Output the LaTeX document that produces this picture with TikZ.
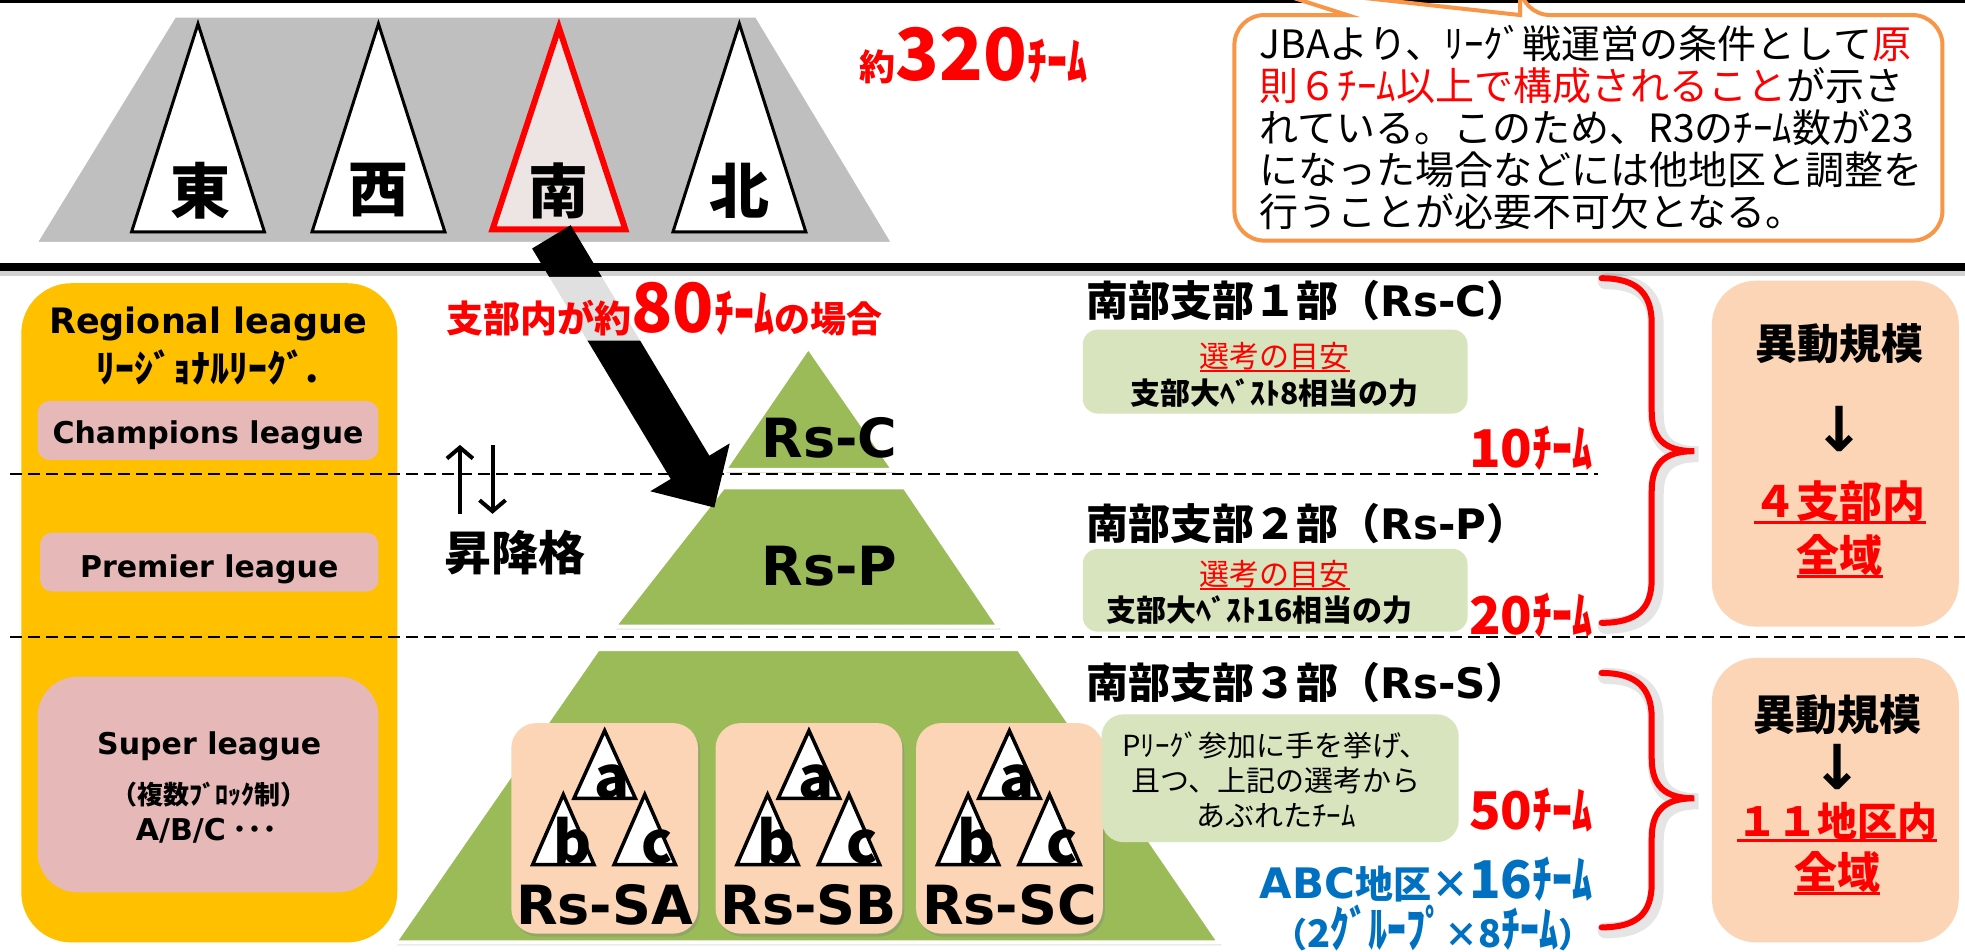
\documentclass[tikz,border=0pt]{standalone}
\usepackage{fontspec}
\usepackage{graphicx}
\setmainfont{Noto Sans CJK JP}
\newfontfamily\dv{DejaVu Sans}
\usetikzlibrary{arrows.meta,shadows}
\definecolor{grayT}{HTML}{BFBFBF}
\definecolor{minami}{HTML}{EDE4E4}
\definecolor{yel}{HTML}{FFC000}
\definecolor{pinkB}{HTML}{E6B9B8}
\definecolor{grn}{HTML}{9BBB59}
\definecolor{peach}{HTML}{FBD5B5}
\definecolor{lgrn}{HTML}{D7E4BD}
\definecolor{orng}{HTML}{F79646}
\definecolor{blu}{HTML}{0070C0}
\newcommand\fsz[1]{\fontsize{#1}{#1}\selectfont}
\newcommand\tall[1]{\smash{\scalebox{1}[1.3]{#1}}\vphantom{#1}}
\newcommand\myul[3]{\setbox0\hbox{#3}\leavevmode\rlap{\raisebox{-#1}{\rule{\wd0}{#2}}}\box0}
\begin{document}
\begin{tikzpicture}[x=1.2532pt,y=-1.2532pt,
  lbl/.style={inner sep=0pt},
  tri/.style={fill=white,draw=black,line width=3pt,line join=miter,drop shadow={shadow xshift=2pt,shadow yshift=-2pt,opacity=.3}},
  pyr/.style={fill=grn,draw=white,line width=4pt,line join=round,drop shadow={shadow xshift=2pt,shadow yshift=-3pt,opacity=.25}},
  stri/.style={fill=white,draw=black,line width=3.5pt,line join=miter,drop shadow={shadow xshift=1.5pt,shadow yshift=-1.5pt,opacity=.35}},
  dashln/.style={line width=2pt,dash pattern=on 12pt off 6pt},
  brace/.style={draw=red,line width=6pt,line cap=round},
  braceshadow/.style={draw=black,opacity=.10,line width=16pt,line cap=round,xshift=4pt,yshift=-3pt},
  updn/.style={line width=4pt},
]
\useasboundingbox (0,0) rectangle (1568,759);
\fill[white] (0,0) rectangle (1568,759);

% ---------- top section ----------
\draw[line width=3pt] (0,1) -- (1568,1);
\filldraw[fill=grayT,draw=white,line width=5pt,drop shadow={shadow xshift=2pt,shadow yshift=-2pt,opacity=.25}]
  (139,12) -- (604,12) -- (714,195) -- (27,195) -- cycle;
\foreach \cx in {158,302,590} {
  \draw[tri] (\cx,19) -- ({\cx+53},185) -- ({\cx-53},185) -- cycle;
}
\draw[fill=minami,draw=red,line width=6pt,line join=miter,drop shadow={shadow xshift=2pt,shadow yshift=-2pt,opacity=.3}]
  (446,22) -- (499,183) -- (393,183) -- cycle;
\node[lbl,font=\bfseries\fsz{60}] (east) at (160,152) {東};
\node[lbl,font=\bfseries\fsz{60}] (west) at (302,152) {西};
\node[lbl,font=\bfseries\fsz{60}] (south) at (446,152) {南};
\node[lbl,font=\bfseries\fsz{60}] (north) at (590,152) {北};
\node[lbl,anchor=base west,text=red,font=\bfseries] (t320) at (686,64)
  {{\fsz{36}約}{\fsz{72}320}{\fsz{40}\tall{ﾁｰﾑ}}};

% callout
\draw[fill=white,draw=orng,line width=4pt]
  (1213,12) -- (1003,-11) -- (1075,12) [rounded corners=30pt] -- (985,12) -- (985,192)
  -- (1550,192) -- (1550,12) -- (1213,12) [sharp corners] -- cycle;
\node[lbl,anchor=north west,align=left,font=\fontsize{39}{42}\selectfont] (note) at (1005,20)
  {JBAより、ﾘｰｸﾞ戦運営の条件として\textcolor{red}{原}\\
   \textcolor{red}{則６ﾁｰﾑ以上で構成されること}が示さ\\
   れている。このため、R3のﾁｰﾑ数が23\\
   になった場合などには他地区と調整を\\
   行うことが必要不可欠となる。};

% separator
\draw[line width=5pt,black!18] (0,218) -- (1568,218);
\draw[line width=8pt] (0,213) -- (1568,213);

% ---------- left column ----------
\fill[yel,rounded corners=50pt] (17,226) rectangle (317,752);
\fill[pinkB,rounded corners=12pt] (30,320) rectangle (302,367);
\fill[pinkB,rounded corners=12pt] (32,425) rectangle (302,472);
\fill[pinkB,rounded corners=40pt] (30,540) rectangle (302,712);
\node[lbl,anchor=base,font=\dv\bfseries\fsz{35}] (rl) at (166,266) {Regional league};
\node[lbl,font=\bfseries\fsz{38}] (rlj) at (166,293) {ﾘｰｼﾞｮﾅﾙﾘｰｸﾞ.};
\node[lbl,anchor=base,font=\dv\bfseries\fsz{30}] (champ) at (166,354) {Champions league};
\node[lbl,anchor=base,font=\dv\bfseries\fsz{30}] (prem) at (167,461) {Premier league};
\node[lbl,anchor=base,font=\dv\bfseries\fsz{30}] (super) at (167,602) {Super league};
\node[lbl,font=\bfseries\fsz{26}] (block) at (167,634) {（複数ﾌﾞﾛｯｸ制）};
\node[lbl,anchor=base,font=\bfseries\fsz{30}] (abcl) at (165,671) {{\dv A/B/C} ･･･};

% ---------- pyramid ----------
\draw[pyr] (645,277) -- (713,375) -- (578,375) -- cycle;
\draw[pyr] (577,389) -- (722,389) -- (797,500) -- (490,500) -- cycle;
\draw[pyr] (477,518) -- (813,518) -- (973,752) -- (315,752) -- cycle;

\draw[dashln] (8,378) -- (1275,378);
\draw[dashln] (8,508) -- (1568,508);

\node[lbl,anchor=base,font=\dv\bfseries\fsz{54}] (rsc) at (662,365) {Rs-C};
\node[lbl,anchor=base,font=\dv\bfseries\fsz{54}] (rsp) at (662,467) {Rs-P};

\foreach \bx/\nm in {482.5/A,645.5/B,805.5/C} {
  \fill[peach,rounded corners=25pt,drop shadow={shadow xshift=2pt,shadow yshift=-3pt,opacity=.35}]
    ({\bx-74.5},577) rectangle ({\bx+74.5},745);
  \draw[stri] (\bx,583) -- ({\bx+24.5},637) -- ({\bx-24.5},637) -- cycle;
  \draw[stri] ({\bx-33},634) -- ({\bx-8.5},690) -- ({\bx-57.5},690) -- cycle;
  \draw[stri] ({\bx+32},634) -- ({\bx+56.5},690) -- ({\bx+7.5},690) -- cycle;
  \node[lbl,anchor=base,font=\bfseries\fsz{58}] (a\nm) at ({\bx+6},637) {a};
  \node[lbl,anchor=base,font=\bfseries\fsz{58}] (b\nm) at ({\bx-26},689) {b};
  \node[lbl,anchor=base,font=\bfseries\fsz{58}] (c\nm) at ({\bx+42},689) {c};
  \node[lbl,anchor=base,font=\dv\bfseries\fsz{54}] (rs\nm) at (\bx,738) {Rs-S\nm};
}

% big arrow
\fill[black] (424.6,198.3) -- (455.4,179.7) -- (566.0,363.6) -- (582.3,353.8) -- (570,405)
  -- (518.9,392.0) -- (535.2,382.2) -- cycle;

\node[anchor=base west,text=red,font=\bfseries,fill=white,fill opacity=.88,text opacity=1,
      inner xsep=4pt,inner ysep=5pt,rounded corners=6pt] (case80) at (353,265)
  {{\fsz{37}支部内が約}{\fsz{68}80}{\fsz{40}\tall{ﾁｰﾑ}}{\fsz{36}の場合}};

% promotion arrows
\draw[updn,-{Straight Barb[length=11pt,width=26pt]}] (367,410) -- (367,355);
\draw[updn,-{Straight Barb[length=11pt,width=26pt]}] (393,355) -- (393,410);
\node[lbl,font=\bfseries\fsz{47}] (shoko) at (411,441) {昇降格};

% ---------- right text column ----------
\node[lbl,anchor=west,font=\bfseries\fsz{42}] (h1) at (867,240) {南部支部１部（{\dv Rs-C}）};
\fill[lgrn,rounded corners=15pt] (864,263) rectangle (1171,330);
\node[lbl,text=red,font=\fsz{30}] (m1) at (1017,285) {\myul{4pt}{1.5pt}{選考の目安}};
\node[lbl,font=\bfseries\fsz{30}] (b8) at (1017,314) {支部大ﾍﾞｽﾄ8相当の力};
\node[lbl,anchor=base east,text=red,font=\bfseries] (n10) at (1271,373) {{\fsz{52}10}{\fsz{40}\tall{ﾁｰﾑ}}};

\node[lbl,anchor=west,font=\bfseries\fsz{42}] (h2) at (867,418) {南部支部２部（{\dv Rs-P}）};
\fill[lgrn,rounded corners=15pt] (864,438) rectangle (1171,504);
\node[lbl,text=red,font=\fsz{30}] (m2) at (1017,459) {\myul{4pt}{1.5pt}{選考の目安}};
\node[lbl,font=\bfseries\fsz{30}] (b16) at (1005,487) {支部大ﾍﾞｽﾄ16相当の力};
\node[lbl,anchor=base east,text=red,font=\bfseries] (n20) at (1271,506) {{\fsz{52}20}{\fsz{40}\tall{ﾁｰﾑ}}};

\node[lbl,anchor=west,font=\bfseries\fsz{42}] (h3) at (867,545) {南部支部３部（{\dv Rs-S}）};
\fill[lgrn,rounded corners=22pt] (879,570) rectangle (1164,672);
\node[lbl,align=center,font=\fontsize{29}{35}\selectfont] (m3) at (1018,622)
  {Pﾘｰｸﾞ参加に手を挙げ、\\且つ、上記の選考から\\あぶれたﾁｰﾑ};
\node[lbl,anchor=base east,text=red,font=\bfseries] (n50) at (1271,662) {{\fsz{52}50}{\fsz{40}\tall{ﾁｰﾑ}}};
\node[lbl,anchor=base east,text=blu,font=\bfseries] (abc16) at (1271,717)
  {{\dv\fsz{42}ABC}{\fsz{38}地区×}{\fsz{52}16}{\fsz{40}\tall{ﾁｰﾑ}}};
\node[lbl,anchor=base east,text=blu,font=\bfseries] (grp) at (1271,756)
  {{\fsz{34}（}{\fsz{38}2\tall{ｸﾞﾙｰﾌﾟ}}{\fsz{34}×}{\fsz{38}8\tall{ﾁｰﾑ}}{\fsz{34}）}};

% ---------- braces ----------
\draw[braceshadow] (1278,222) .. controls (1306,222) and (1318,234) .. (1318,258) -- (1318,328)
  .. controls (1318,350) and (1328,360) .. (1352,360) .. controls (1328,360) and (1318,370) .. (1318,392)
  -- (1318,462) .. controls (1318,486) and (1306,497) .. (1278,497);
\draw[brace] (1278,222) .. controls (1306,222) and (1318,234) .. (1318,258) -- (1318,328)
  .. controls (1318,350) and (1328,360) .. (1352,360) .. controls (1328,360) and (1318,370) .. (1318,392)
  -- (1318,462) .. controls (1318,486) and (1306,497) .. (1278,497);
\draw[braceshadow] (1278,537) .. controls (1306,537) and (1318,549) .. (1318,573) -- (1318,605)
  .. controls (1318,627) and (1328,637) .. (1352,637) .. controls (1328,637) and (1318,647) .. (1318,669)
  -- (1318,705) .. controls (1318,729) and (1306,740) .. (1278,740);
\draw[brace] (1278,537) .. controls (1306,537) and (1318,549) .. (1318,573) -- (1318,605)
  .. controls (1318,627) and (1328,637) .. (1352,637) .. controls (1328,637) and (1318,647) .. (1318,669)
  -- (1318,705) .. controls (1318,729) and (1306,740) .. (1278,740);

% ---------- right boxes ----------
\fill[peach,rounded corners=44pt] (1366,224) rectangle (1563,500);
\fill[peach,rounded corners=44pt] (1366,525) rectangle (1563,752);
\node[lbl,font=\bfseries\fsz{42}] (ido1) at (1468,274) {異動規模};
\node[lbl,anchor=base,font=\dv\bfseries\fsz{62}] (ar1) at (1468,360) {\smash{↓}};
\node[lbl,text=red,font=\bfseries\fsz{43}] (sc1) at (1468,401) {\myul{6pt}{3pt}{４支部内}};
\node[lbl,text=red,font=\bfseries\fsz{43}] (sc1b) at (1468,444) {\myul{6pt}{3pt}{全域}};
\node[lbl,font=\bfseries\fsz{42}] (ido2) at (1466,570) {異動規模};
\node[lbl,anchor=base,font=\dv\bfseries\fsz{62}] (ar2) at (1466,630) {\smash{↓}};
\node[lbl,text=red,font=\bfseries\fsz{40}] (sc2) at (1466,656) {\myul{6pt}{3pt}{１１地区内}};
\node[lbl,text=red,font=\bfseries\fsz{43}] (sc2b) at (1466,697) {\myul{6pt}{3pt}{全域}};
\end{tikzpicture}
\end{document}
